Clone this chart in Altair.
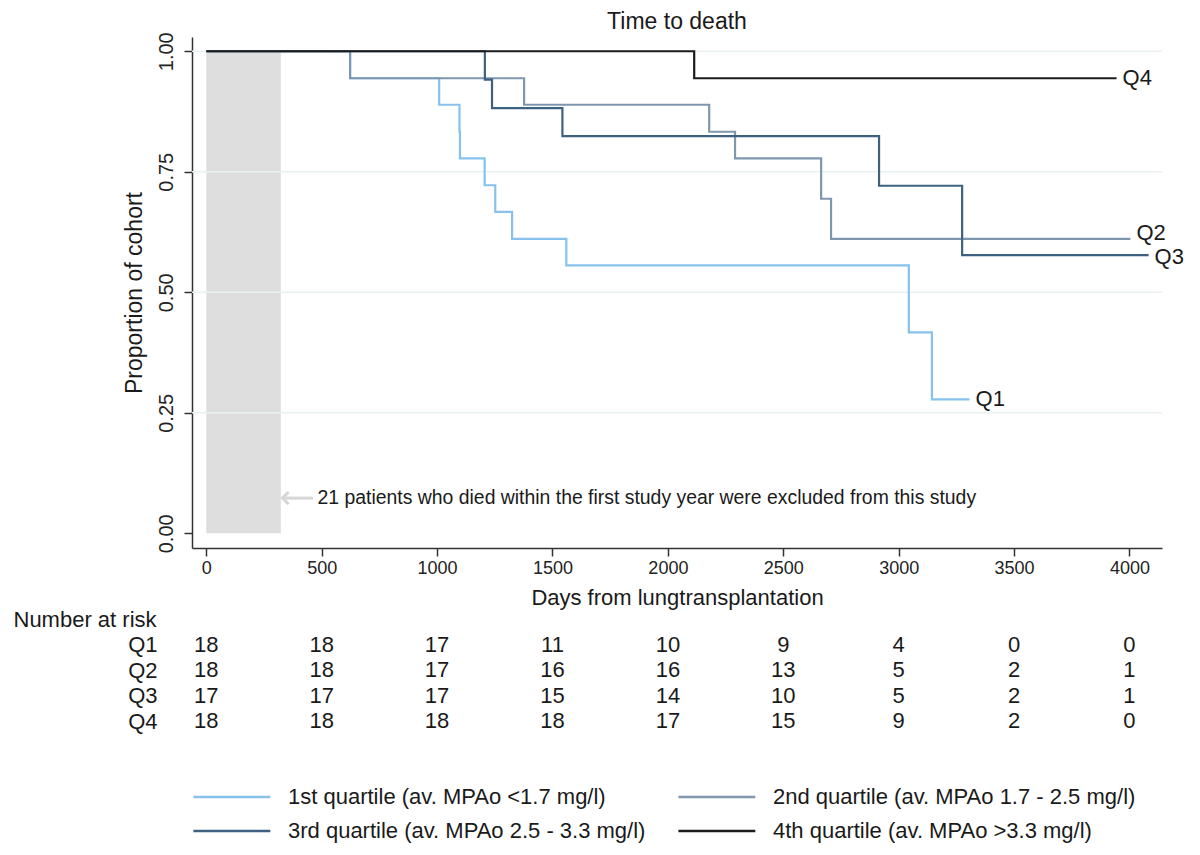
import altair as alt
import pandas as pd

FONT = "Liberation Sans"

# ---- data ----
series_names = [
    "1st quartile (av. MPAo <1.7 mg/l)",
    "2nd quartile (av. MPAo 1.7 - 2.5 mg/l)",
    "3rd quartile (av. MPAo 2.5 - 3.3 mg/l)",
    "4th quartile (av. MPAo >3.3 mg/l)",
]
short_names = ["Q1", "Q2", "Q3", "Q4"]
series_colors = ["#86c2ec", "#7f97ae", "#3f6180", "#1c1c1c"]

q1_days = [0, 623, 1009, 1097, 1099, 1206, 1252, 1325, 1560, 3044, 3144, 3307]
q1_surv = [1.0, 0.944, 0.889, 0.833, 0.778, 0.722, 0.667, 0.611, 0.556, 0.417, 0.278, 0.278]
q2_days = [0, 623, 1377, 2179, 2291, 2664, 2707, 4004]
q2_surv = [1.0, 0.944, 0.889, 0.833, 0.778, 0.694, 0.611, 0.611]
q3_days = [0, 1207, 1238, 1543, 2915, 3275, 4083]
q3_surv = [1.0, 0.941, 0.882, 0.824, 0.721, 0.577, 0.577]
q4_days = [0, 2114, 3944]
q4_surv = [1.0, 0.944, 0.944]

risk_days = [0, 500, 1000, 1500, 2000, 2500, 3000, 3500, 4000]
risk_q1 = [18, 18, 17, 11, 10, 9, 4, 0, 0]
risk_q2 = [18, 18, 17, 16, 16, 13, 5, 2, 1]
risk_q3 = [17, 17, 17, 15, 14, 10, 5, 2, 1]
risk_q4 = [18, 18, 18, 18, 17, 15, 9, 2, 0]

y_ticks = [0, 0.25, 0.5, 0.75, 1.0]
grid_vals = [0.25, 0.5, 0.75, 1.0]

excluded_start = 0
excluded_end = 323
note_text = "21 patients who died within the first study year were excluded from this study"
note_y = 0.073
arrow_tip_day = 330
arrow_tail_day = 462
note_day = 482

x_domain = [-62, 4141]
y_domain = [-0.0305, 1.0296]

# ---- tables ----
rows = []
for name, sn, d, s in zip(series_names, short_names,
                          [q1_days, q2_days, q3_days, q4_days],
                          [q1_surv, q2_surv, q3_surv, q4_surv]):
    for i, (dd, ss) in enumerate(zip(d, s)):
        rows.append({"series": name, "short": sn, "day": dd, "surv": ss, "order": i})
km = pd.DataFrame(rows)
ends = km.sort_values("order").groupby("series", sort=False).tail(1)

risk_rows = []
for sn, vals in zip(short_names, [risk_q1, risk_q2, risk_q3, risk_q4]):
    for dd, v in zip(risk_days, vals):
        risk_rows.append({"row": sn, "day": dd, "n": v})
risk = pd.DataFrame(risk_rows)

xs = alt.Scale(domain=x_domain, nice=False, zero=False)
ys = alt.Scale(domain=y_domain, nice=False, zero=False)

W, H = 970, 511

rect = alt.Chart(pd.DataFrame({"x": [excluded_start], "x2": [excluded_end], "y": [0.0], "y2": [1.0]})).mark_rect(
    color="#dedede"
).encode(
    x=alt.X("x:Q", scale=xs,
            axis=alt.Axis(values=risk_days, format="d", title="Days from lungtransplantation", grid=False,
                          labelFontSize=18, titleFontSize=22, tickSize=8, labelPadding=3,
                          titlePadding=10, titleFontWeight="normal", domainColor="#333333",
                          tickColor="#333333", labelColor="#222222", titleColor="#1a1a1a",
                          domainWidth=1.5, tickWidth=1.5, labelFont=FONT, titleFont=FONT)),
    x2="x2:Q",
    y=alt.Y("y:Q", scale=ys,
            axis=alt.Axis(values=y_ticks, format=".2f", title="Proportion of cohort", grid=False,
                          labelAngle=270, labelAlign="center", labelBaseline="bottom",
                          labelFontSize=20, titleFontSize=23, tickSize=8, labelPadding=8,
                          titlePadding=10, titleFontWeight="normal", domainColor="#333333",
                          tickColor="#333333", labelColor="#222222", titleColor="#1a1a1a",
                          domainWidth=1.5, tickWidth=1.5, labelFont=FONT, titleFont=FONT)),
    y2="y2:Q",
)

grid = alt.Chart(pd.DataFrame({"g": grid_vals})).mark_rule(color="#e9f1f3", strokeWidth=1.5).encode(
    y=alt.Y("g:Q", scale=ys),
    x=alt.value(0), x2=alt.value(W),
)

lines = alt.Chart(km).mark_line(interpolate="step-after", strokeWidth=2.2).encode(
    x=alt.X("day:Q", scale=xs),
    y=alt.Y("surv:Q", scale=ys),
    color=alt.Color("series:N", scale=alt.Scale(domain=series_names, range=series_colors),
                    legend=alt.Legend(orient="bottom", columns=2, title=None, symbolType="M-1,0H7",
                                      symbolSize=370, symbolStrokeWidth=2.5, labelFontSize=22,
                                      labelFont=FONT, labelColor="#1a1a1a", labelLimit=0,
                                      columnPadding=27, rowPadding=12, labelOffset=74, offset=52)),
    order="order:Q",
    detail="series:N",
)

def end_label(dy, cond):
    return alt.Chart(ends).transform_filter(cond).mark_text(
        align="left", baseline="middle", dx=6, dy=dy, fontSize=22, font=FONT, color="#1a1a1a"
    ).encode(x=alt.X("day:Q", scale=xs), y=alt.Y("surv:Q", scale=ys), text="short:N")

end_labels = alt.layer(
    end_label(0, "datum.short == 'Q1' || datum.short == 'Q4'"),
    end_label(-6, "datum.short == 'Q2'"),
    end_label(2, "datum.short == 'Q3'"),
)

arrow_line = alt.Chart(pd.DataFrame({"a": [arrow_tip_day + 12], "b": [arrow_tail_day], "y": [note_y]})).mark_rule(
    color="#d6d6d6", strokeWidth=3).encode(
    x=alt.X("a:Q", scale=xs), x2="b:Q", y=alt.Y("y:Q", scale=ys))

arrow_head = alt.Chart(pd.DataFrame({"a": [arrow_tip_day], "y": [note_y]})).mark_point(
    shape="M1,-1L0,0L1,1", filled=False, color="#d6d6d6", strokeWidth=3, size=150, opacity=1).encode(
    x=alt.X("a:Q", scale=xs), y=alt.Y("y:Q", scale=ys))

note = alt.Chart(pd.DataFrame({"a": [note_day], "y": [note_y], "t": [note_text]})).mark_text(
    align="left", baseline="middle", fontSize=19.4, font=FONT, color="#1a1a1a").encode(
    x=alt.X("a:Q", scale=xs), y=alt.Y("y:Q", scale=ys), text="t:N")

main = alt.layer(rect, grid, lines, end_labels, arrow_line, arrow_head, note).properties(
    width=W, height=H,
    title=alt.TitleParams("Time to death", fontSize=23, fontWeight="normal", font=FONT,
                          color="#1a1a1a", anchor="middle", offset=-2),
)

risk_chart = alt.Chart(risk).mark_text(fontSize=22, font=FONT, color="#1a1a1a", baseline="middle").encode(
    x=alt.X("day:Q", scale=xs, axis=None),
    y=alt.Y("row:N", scale=alt.Scale(domain=short_names, type="point", padding=0.5),
            axis=alt.Axis(title="Number at risk", titleAngle=0, titleAlign="left", titleBaseline="middle",
                          titleX=-179, titleY=-13, titleFontSize=22, titleFontWeight="normal",
                          titleFont=FONT, titleColor="#1a1a1a", labelFontSize=22, labelFont=FONT,
                          labelColor="#1a1a1a", ticks=False, tickSize=0, domain=False,
                          labelPadding=35, grid=False)),
    text="n:Q",
).properties(width=W, height=102)

chart = alt.vconcat(main, risk_chart, spacing=0).resolve_scale(color="shared").properties(
    padding={"left": 5, "top": 2, "right": 5, "bottom": 5}
).configure(font=FONT, view=alt.ViewConfig(stroke=None))

chart.save("out.html", embed_options={"renderer": "svg", "actions": False})
